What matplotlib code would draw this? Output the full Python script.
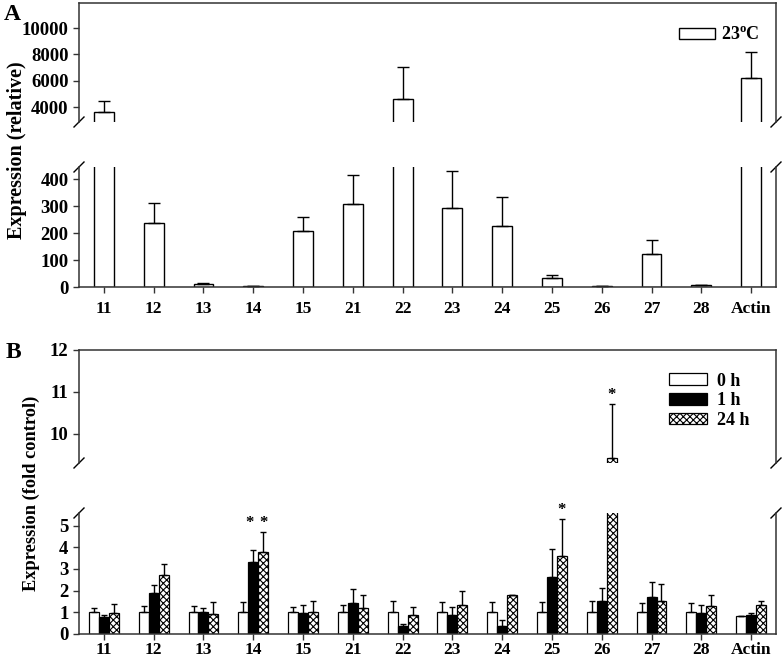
import numpy as np
import matplotlib
matplotlib.use('Agg')
import matplotlib.pyplot as plt

plt.rcParams['font.family'] = ['Liberation Serif', 'DejaVu Serif']
plt.rcParams['font.weight'] = 'bold'
plt.rcParams['font.size'] = 12
plt.rcParams['mathtext.fontset'] = 'custom'
plt.rcParams['mathtext.rm'] = 'Liberation Serif:bold'
plt.rcParams['hatch.linewidth'] = 0.8

genes = ['11', '12', '13', '14', '15', '21', '22', '23', '24', '25', '26', '27', '28', 'Actin']

# panel A - relative expression at 23 C
rel_mean = [3620, 237, 12, 3, 207, 307, 4600, 294, 225, 32, 2, 123, 6, 6200]
rel_err = [830, 73, 2, 1, 51, 108, 2420, 137, 108, 12, 1, 51, 2, 1950]

# panel B - fold control after 0, 1 and 24 h
h0_mean = [1.0, 1.0, 1.0, 1.0, 1.0, 1.0, 1.0, 1.0, 1.0, 1.0, 1.0, 1.0, 1.0, 0.83]
h0_err = [0.21, 0.30, 0.27, 0.46, 0.25, 0.35, 0.53, 0.46, 0.49, 0.46, 0.51, 0.41, 0.41, 0.0]
h1_mean = [0.80, 1.90, 1.00, 3.30, 0.95, 1.45, 0.38, 0.86, 0.38, 2.64, 1.52, 1.69, 0.98, 0.86]
h1_err = [0.08, 0.34, 0.18, 0.56, 0.37, 0.62, 0.08, 0.37, 0.28, 1.26, 0.61, 0.71, 0.34, 0.09]
h24_mean = [0.98, 2.73, 0.93, 3.78, 1.03, 1.22, 0.86, 1.32, 1.81, 3.59, 9.42, 1.52, 1.29, 1.35]
h24_err = [0.40, 0.50, 0.54, 0.92, 0.49, 0.56, 0.37, 0.68, 0.0, 1.71, 1.28, 0.77, 0.49, 0.15]
sig_1h = ['14']
sig_24h = ['14', '25', '26']

x = np.arange(len(genes))
fig = plt.figure(figsize=(7.84, 6.63), dpi=100)

L, W = 79 / 784, 697 / 784
def frac(top, bot):
    return [L, 1 - bot / 663, W, (bot - top) / 663]

a_hi = fig.add_axes(frac(3, 122))
a_lo = fig.add_axes(frac(167, 287))
b_hi = fig.add_axes(frac(349.5, 463))
b_lo = fig.add_axes(frac(513, 634))


def style(ax_hi, ax_lo, xpad):
    for ax in (ax_hi, ax_lo):
        ax.set_xlim(-0.5, len(genes) - 0.5)
        for s in ax.spines.values():
            s.set_linewidth(1.1)
            s.set_color('#333333')
        ax.tick_params(direction='out', length=4.5, width=1, color='#333333')
        ax.tick_params(axis='y', labelsize=13.5, pad=3)
        ax.tick_params(axis='x', labelsize=12.5)
    ax_hi.spines['bottom'].set_visible(False)
    ax_hi.tick_params(axis='x', bottom=False, labelbottom=False)
    ax_lo.spines['top'].set_visible(False)
    ax_lo.set_xticks(x)
    ax_lo.set_xticklabels(genes)
    ax_lo.tick_params(axis='x', pad=xpad)
    # break marks
    for ax, yy in ((ax_hi, 0), (ax_lo, 1)):
        bb = ax.get_position()
        dx = 5 / 784 / bb.width
        dy = 5 / 663 / bb.height
        for xx in (0, 1):
            ax.plot([xx - dx, xx + dx], [yy - dy, yy + dy], transform=ax.transAxes,
                    color='black', lw=1, clip_on=False)


# panel A
for ax in (a_hi, a_lo):
    ax.bar(x, rel_mean, 0.4, color='white', edgecolor='black', lw=1, label='23$^{\\mathrm{o}}$C')
    ax.errorbar(x, rel_mean, yerr=[np.zeros(len(x)), rel_err], fmt='none', ecolor='black',
                elinewidth=1, capsize=4, capthick=1)
a_hi.set_ylim(2870, 11900)
a_hi.set_yticks([4000, 6000, 8000, 10000])
a_lo.set_ylim(0, 445)
a_lo.set_yticks([0, 100, 200, 300, 400])
style(a_hi, a_lo, 5.3)
a_hi.legend(loc='upper right', bbox_to_anchor=(1.0, 0.94), frameon=False,
            handlelength=2.0, handleheight=0.55, handletextpad=0.35, fontsize=13)

# panel B
series = [(h0_mean, h0_err, 'white', None, '0 h'),
          (h1_mean, h1_err, 'black', None, '1 h'),
          (h24_mean, h24_err, 'white', 'xxxxx', '24 h')]
bw = 0.2
for ax in (b_hi, b_lo):
    for i, (m, e, c, h, lab) in enumerate(series):
        xi = x + (i - 1) * bw
        ax.bar(xi, m, bw, color=c, edgecolor='black', lw=0.9, hatch=h, label=lab)
        ax.errorbar(xi, m, yerr=[np.zeros(len(x)), e], fmt='none', ecolor='black',
                    elinewidth=1, capsize=2.5, capthick=1)
b_hi.set_ylim(9.3, 12)
b_hi.set_yticks([10, 11, 12])
b_lo.set_ylim(0, 5.58)
b_lo.set_yticks([0, 1, 2, 3, 4, 5])
style(b_hi, b_lo, 1.0)
b_hi.legend(loc='upper right', bbox_to_anchor=(0.985, 0.94), frameon=False,
            handlelength=2.1, handleheight=0.6, handletextpad=0.55, labelspacing=0.15,
            fontsize=13)

# significance stars
for g in genes:
    i = genes.index(g)
    tops = [h0_mean[i] + h0_err[i], h1_mean[i] + h1_err[i], h24_mean[i] + h24_err[i]]
    ystar = max(tops)
    for off, flag in ((-0.08, g in sig_1h), (bw, g in sig_24h)):
        if not flag:
            continue
        ax = b_hi if ystar > 9.3 else b_lo
        ax.annotate('*', (i + off, ystar), xytext=(0, 1), textcoords='offset points',
                    ha='center', va='bottom', fontsize=12)

fig.text(17 / 784, 1 - 150 / 663, 'Expression (relative)', rotation=90,
         ha='center', va='center', fontsize=14.5)
fig.text(31 / 784, 1 - 493 / 663, 'Expression (fold control)', rotation=90,
         ha='center', va='center', fontsize=13.2)
fig.text(4 / 784, 1 - 15 / 663, 'A', ha='left', va='center', fontsize=17)
fig.text(6 / 784, 1 - 353 / 663, 'B', ha='left', va='center', fontsize=17)

fig.savefig('out.png', dpi=100)
